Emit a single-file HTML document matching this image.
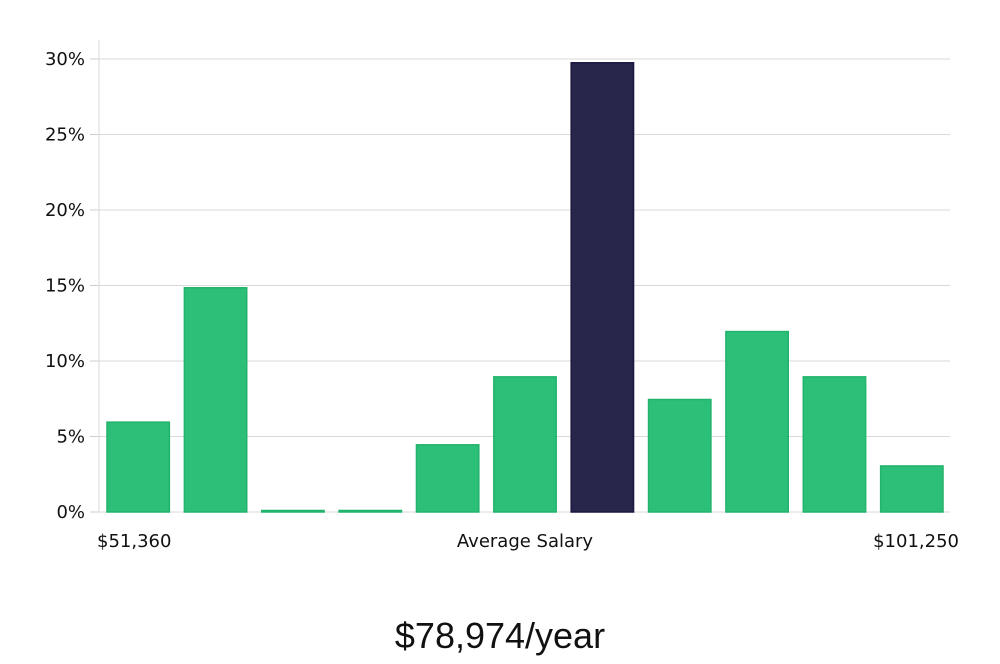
<!DOCTYPE html>
<html><head><meta charset="utf-8"><style>
body{margin:0;background:#fff;width:1000px;height:660px;overflow:hidden;font-family:"DejaVu Sans","Liberation Sans",sans-serif}
</style></head><body>
<svg id="chart" width="1000" height="660" xmlns="http://www.w3.org/2000/svg" font-family="DejaVu Sans, Liberation Sans, sans-serif">
<g id="grid"></g><g id="bars"></g><g id="axes"></g>
<text x="97" y="547" font-size="18" fill="#111">$51,360</text>
<text x="525" y="547" font-size="18" fill="#111" text-anchor="middle">Average Salary</text>
<text x="959" y="547" font-size="18" fill="#111" text-anchor="end">$101,250</text>
<text x="500" y="648" font-size="36" fill="#111" text-anchor="middle" font-family="Liberation Sans Narrow, Liberation Sans, sans-serif">$78,974/year</text>
</svg>
<script>
const categories=["b1","b2","b3","b4","b5","b6","b7","b8","b9","b10","b11"];
const values=[5.95,14.85,0.1,0.1,4.45,8.95,29.75,7.45,11.95,8.95,3.05];
const highlight=[false,false,false,false,false,false,true,false,false,false,false];
const ticks=[0,5,10,15,20,25,30];
const tickLabels=["0%","5%","10%","15%","20%","25%","30%"];
const NS="http://www.w3.org/2000/svg";
const x0=99,x1=950,y0=512,yTop=59;
const yScale=v=>y0-(v/30)*(y0-yTop);
const slot=(x1-x0)/categories.length;
const xScale=i=>x0+i*slot;
function mk(t,a,p){const e=document.createElementNS(NS,t);for(const k in a)e.setAttribute(k,a[k]);p.appendChild(e);return e;}
const grid=document.getElementById('grid'),bars=document.getElementById('bars'),axes=document.getElementById('axes');
ticks.forEach((t,i)=>{
 const y=yScale(t);
 const g=mk('line',{x1:x0,x2:x1,y1:y,y2:y,stroke:'#d9d9d9','stroke-width':1},grid);
 
 
 const tk=mk('line',{x1:90,x2:x0,y1:y,y2:y,stroke:'#ccc','stroke-width':1},axes);
 
 
 const l=mk('text',{x:85,y:y+6,'font-size':18,fill:'#111','text-anchor':'end'},axes);
 l.textContent=tickLabels[i];
 
 
});
const ax=mk('line',{x1:x0,x2:x0,y1:40,y2:y0,stroke:'#d9d9d9','stroke-width':1},axes);


values.forEach((v,i)=>{
 const pad=8,w=slot-2*pad+1;
 const y=yScale(v);
 const r=mk('rect',{x:xScale(i)+pad,y:y,width:w,height:Math.max(1,y0-y),
  fill:highlight[i]?'#28264a':'#2bbf77',stroke:highlight[i]?'#1a1840':'#22b36c','stroke-width':1.5},bars);
 
 
});
</script>
</body></html>
